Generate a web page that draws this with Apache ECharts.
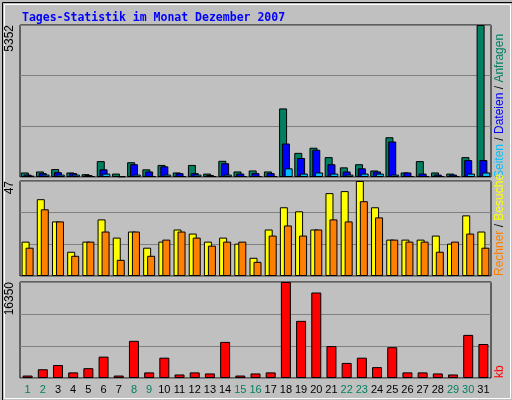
<!DOCTYPE html>
<html><head><meta charset="utf-8">
<script src="https://cdn.jsdelivr.net/npm/echarts@6/dist/echarts.min.js"></script>
<style>html,body{margin:0;padding:0;background:#c0c0c0}#c{width:512px;height:400px}</style>
</head><body><div id="c"></div>
<script>
const days = ['1','2','3','4','5','6','7','8','9','10','11','12','13','14','15','16','17','18','19','20','21','22','23','24','25','26','27','28','29','30','31'];
const weekend = ['1','2','8','9','15','16','22','23','29','30'];
const hits  = [160,195,280,160,100,560,120,520,270,425,160,425,120,570,195,230,195,2415,850,1030,700,340,450,230,1400,160,560,160,120,700,5352];
const files = [85,135,170,135,70,270,35,450,195,375,135,135,70,485,120,135,135,1180,670,960,450,195,305,195,1250,160,120,85,85,595,595];
const pages = [50,85,85,85,35,120,25,85,35,85,35,85,35,85,35,35,35,305,120,160,120,85,120,120,85,35,35,35,35,120,160];
const visits = [17,38,27,12,17,28,19,22,14,17,23,21,17,19,16,9,23,34,32,23,41,42,47,34,18,18,18,20,16,30,22];
const sites  = [14,33,27,10,17,22,8,22,10,18,22,19,15,17,17,7,20,25,20,23,28,27,37,29,18,17,17,12,17,21,14];
const kb = [420,1490,2210,955,1670,3640,420,6330,955,3460,600,955,775,6150,420,775,955,16350,9730,14560,5430,2570,3460,1850,5250,955,955,775,600,7340,5790];
const maxHits = 5352, maxVisits = 47, maxKb = 16350;

const mono = 'DejaVu Sans Mono';
const sans = 'Liberation Sans';
const grids = [
  {left:20,right:21,top:25,height:152},
  {left:20,right:21,top:181,height:95},
  {left:20,right:21,top:282,height:96}
].map(g=>Object.assign(g,{show:true,borderColor:'#000',borderWidth:1,backgroundColor:'#c0c0c0'}));

function xAx(i, show){
  return {type:'category',gridIndex:i,data:days,
    axisLine:{show:false},axisTick:{show:false},
    axisLabel:{show:show,interval:0,margin:6,fontFamily:sans,fontSize:11,
      formatter:v=>weekend.includes(v)?'{w|'+v+'}':'{n|'+v+'}',
      rich:{w:{color:'#008060',fontFamily:sans,fontSize:11},n:{color:'#000',fontFamily:sans,fontSize:11}}}};
}
function yAx(i, max){
  return {type:'value',gridIndex:i,min:0,max:max,interval:max/3,
    axisLine:{show:false},axisTick:{show:false},
    splitLine:{show:true,lineStyle:{color:'#808080',width:1}},
    axisLabel:{show:true,rotate:90,margin:4,fontFamily:sans,fontSize:12,color:'#000',
      align:'right',verticalAlign:'bottom',
      formatter:v=>Math.abs(v-max)<1e-6?String(max):''}};
}
const bs = c=>({color:c,borderColor:'#000',borderWidth:1});
const f = '12px '+sans;
const option = {
  animation:false,
  backgroundColor:'#c0c0c0',
  title:{text:'Tages-Statistik im Monat Dezember 2007',left:17,top:7,
    textStyle:{fontFamily:mono,fontSize:11.5,fontWeight:'bold',color:'#0000ff'}},
  grid:grids,
  xAxis:[xAx(0,false),xAx(1,false),xAx(2,true)],
  yAxis:[yAx(0,maxHits),yAx(1,maxVisits),yAx(2,maxKb)],
  series:[
    {type:'bar',xAxisIndex:0,yAxisIndex:0,data:hits,barWidth:8,barGap:'-65%',itemStyle:bs('#008060')},
    {type:'bar',xAxisIndex:0,yAxisIndex:0,data:files,barWidth:8,barGap:'-65%',itemStyle:bs('#0000ff')},
    {type:'bar',xAxisIndex:0,yAxisIndex:0,data:pages,barWidth:8,barGap:'-65%',itemStyle:bs('#00c0ff')},
    {type:'bar',xAxisIndex:1,yAxisIndex:1,data:visits,barWidth:8,barGap:'-50%',itemStyle:bs('#ffff00')},
    {type:'bar',xAxisIndex:1,yAxisIndex:1,data:sites,barWidth:8,barGap:'-50%',itemStyle:bs('#ff8000')},
    {type:'bar',xAxisIndex:2,yAxisIndex:2,data:kb,barWidth:10,itemStyle:bs('#ff0000')}
  ],
  graphic:[
    {type:'rect',left:0,top:0,shape:{width:511,height:399},style:{fill:'none',stroke:'#000',lineWidth:1},silent:true},
    {type:'rect',left:2,top:2,shape:{width:506,height:394},style:{fill:'none',stroke:'#fff',lineWidth:1},silent:true},
    {type:'text',x:494,y:178,rotation:Math.PI/2,
      style:{text:'{c|Seiten} {k|/} {b|Dateien} {k|/} {g|Anfragen}',align:'left',verticalAlign:'top',
        font:f,
        rich:{c:{fill:'#00c0ff',font:f},b:{fill:'#0000ff',font:f},
              g:{fill:'#008060',font:f},k:{fill:'#000',font:f}}}},
    {type:'text',x:494,y:276,rotation:Math.PI/2,
      style:{text:'{o|Rechner} {k|/} {y|Besuche}',align:'left',verticalAlign:'top',
        font:f,
        rich:{o:{fill:'#ff8000',font:f},y:{fill:'#ffff00',font:f},k:{fill:'#000',font:f}}}},
    {type:'text',x:494,y:378,rotation:Math.PI/2,
      style:{text:'kb',align:'left',verticalAlign:'top',fill:'#ff0000',font:f}}
  ]
};
echarts.init(document.getElementById('c')).setOption(option);
</script></body></html>
